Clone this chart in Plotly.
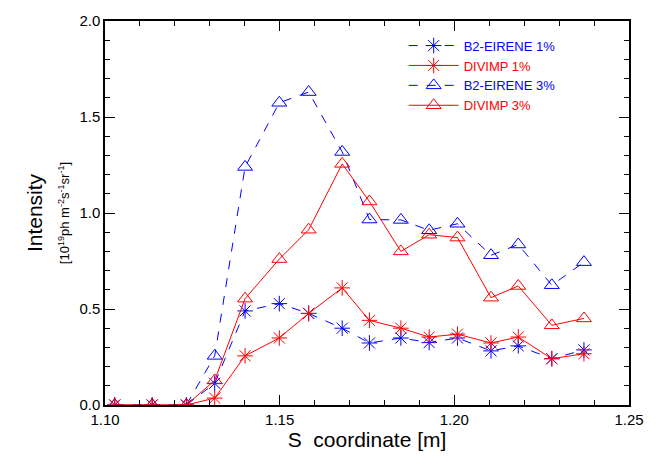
import plotly.graph_objects as go

s_coord = [1.1028, 1.1135, 1.1233, 1.1314, 1.1401, 1.1499, 1.1583, 1.1679,
           1.1757, 1.1847, 1.1928, 1.2009, 1.2105, 1.2183, 1.2279, 1.2371]
b2_1 = [0.0, 0.0, 0.0, 0.113, 0.49, 0.528, 0.477, 0.40,
        0.323, 0.349, 0.325, 0.349, 0.282, 0.308, 0.241, 0.287]
div_1 = [0.0, 0.0, 0.0, 0.036, 0.256, 0.349, 0.477, 0.61,
         0.441, 0.40, 0.354, 0.369, 0.323, 0.354, 0.241, 0.267]
b2_3 = [0.0, 0.0, 0.0, 0.256, 1.24, 1.574, 1.63, 1.318,
        0.966, 0.964, 0.91, 0.944, 0.78, 0.836, 0.624, 0.744]
div_3 = [0.0, 0.0, 0.0, 0.128, 0.554, 0.76, 0.913, 1.256,
         1.06, 0.80, 0.887, 0.872, 0.559, 0.62, 0.415, 0.451]

names = ["B2-EIRENE 1%", "DIVIMP 1%", "B2-EIRENE 3%", "DIVIMP 3%"]
BLUE = "rgb(0,0,255)"
RED = "rgb(255,0,0)"

fig = go.Figure()
series = [
    (b2_1, names[0], BLUE, "dash", "asterisk-open", 13),
    (div_1, names[1], RED, "solid", "asterisk-open", 13),
    (b2_3, names[2], BLUE, "dash", "triangle-up-open", 13),
    (div_3, names[3], RED, "solid", "triangle-up-open", 13),
]
for vals, name, col, dash, sym, sz in series:
    fig.add_trace(go.Scatter(
        x=s_coord, y=vals, mode="lines+markers",
        name=f"<span style='color:{col}'>{name}</span>",
        line=dict(color=col, width=1, dash=dash),
        marker=dict(symbol=sym, size=sz, color=col, line=dict(color=col, width=1)),
    ))

axis_common = dict(
    showgrid=False, zeroline=False, showline=True, linecolor="black", linewidth=1.5,
    mirror="ticks", ticks="inside", ticklen=10, tickwidth=1, tickcolor="black",
    tickfont=dict(size=15, color="black"),
)
fig.update_xaxes(
    range=[1.10, 1.25], tickvals=[1.10, 1.15, 1.20, 1.25], tickformat=".2f",
    minor=dict(dtick=0.01, ticks="inside", ticklen=5, tickcolor="black"),
    title=dict(text="S  coordinate [m]", font=dict(size=21, color="black"), standoff=6),
    **axis_common,
)
fig.update_yaxes(
    range=[0, 2.0], tickvals=[0, 0.5, 1.0, 1.5, 2.0], tickformat=".1f",
    minor=dict(dtick=0.1, ticks="inside", ticklen=5, tickcolor="black"),
    title=dict(
        text="Intensity<br><span style='font-size:13px'>[10<sup>19</sup>ph m<sup>-2</sup>s<sup>-1</sup>sr<sup>-1</sup>]</span>",
        font=dict(size=21, color="black"), standoff=4),
    **axis_common,
)
fig.update_layout(
    width=656, height=460,
    margin=dict(l=105, r=16, t=15, b=55),
    paper_bgcolor="white", plot_bgcolor="white",
    font=dict(family="Liberation Sans, Arial, sans-serif", color="black"),
    showlegend=True,
    legend=dict(x=0.57, y=0.975, xanchor="left", yanchor="top",
                font=dict(size=13), bgcolor="rgba(0,0,0,0)", itemwidth=50,
                tracegroupgap=0),
)
fig.write_html("out.html")
